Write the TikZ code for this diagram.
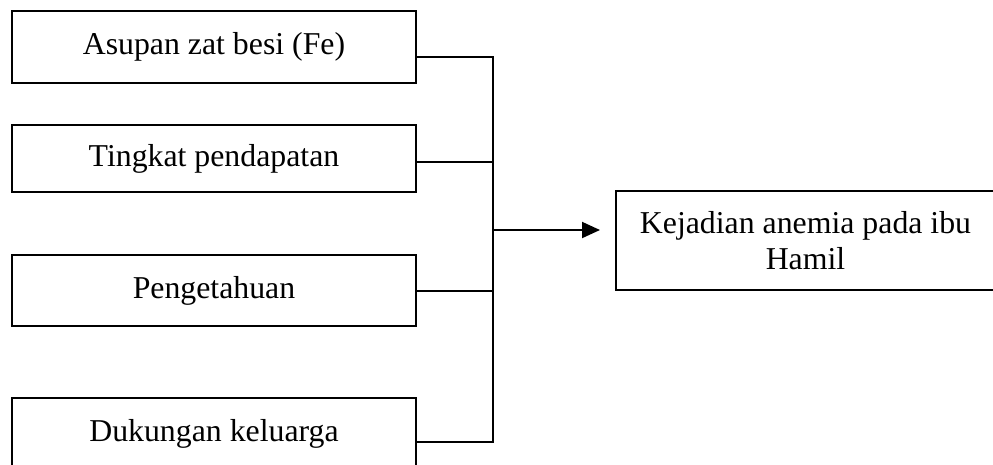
\documentclass[tikz,border=0pt]{standalone}
\usepackage{fontspec}
\setmainfont{Liberation Serif}
\usetikzlibrary{arrows.meta}
\begin{document}
\begin{tikzpicture}[x=1pt,y=-1pt,
  box/.style={draw, line width=1.9pt, rectangle, inner sep=0pt, outer sep=0pt,
    font=\fontsize{31.8}{36.5}\selectfont, align=center},
  conn/.style={line width=1.9pt}]
\useasboundingbox (0,0) rectangle (993,464);
\node[box, minimum width=404pt, minimum height=72pt] (b1) at (214,47) {Asupan zat besi (Fe)};
\node[box, minimum width=404pt, minimum height=67pt] (b2) at (214,158.5) {Tingkat pendapatan};
\node[box, minimum width=404pt, minimum height=71pt] (b3) at (214,290.5) {Pengetahuan};
\node[box, minimum width=404pt, minimum height=72pt] (b4) at (214,434) {Dukungan keluarga};
\node[box, minimum width=379pt, minimum height=99pt] (kj) at (805.5,240.5) {Kejadian anemia pada ibu\\Hamil};
\coordinate (j1) at (493,57);
\coordinate (j2) at (493,162);
\coordinate (j3) at (493,291);
\coordinate (j4) at (493,442);
\coordinate (ja) at (493,230);
\draw[conn] (b1.east |- j1) -- (j1) -- (j4) -- (b4.east |- j4);
\draw[conn] (b2.east |- j2) -- (j2);
\draw[conn] (b3.east |- j3) -- (j3);
\draw[conn, -{Triangle[length=18pt,width=16pt]}] (ja) -- ([xshift=-16pt]kj.west |- ja);
\end{tikzpicture}
\end{document}
